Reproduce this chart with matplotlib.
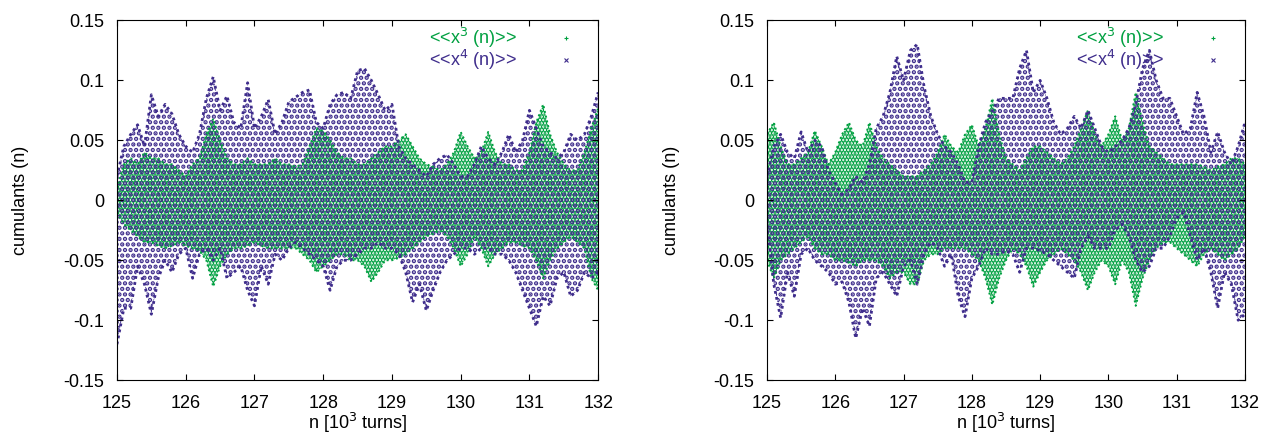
import numpy as np
import matplotlib
matplotlib.use("Agg")
from matplotlib import pyplot as plt

plt.rcParams['font.family'] = ['Liberation Sans', 'DejaVu Sans']
plt.rcParams['hatch.linewidth'] = 2.2

# n in 10^3 turns, sampled every 0.1
n = np.round(np.arange(125.0, 132.01, 0.1), 1)

# left panel: envelopes of the point clouds
left_x3_hi = [0.010, 0.030, 0.035, 0.030, 0.040, 0.035, 0.035, 0.030, 0.030, 0.025,
              0.020, 0.030, 0.035, 0.055, 0.068, 0.050, 0.035, 0.030, 0.030, 0.035,
              0.030, 0.030, 0.030, 0.035, 0.030, 0.030, 0.028, 0.030, 0.045, 0.060,
              0.058, 0.050, 0.040, 0.035, 0.035, 0.030, 0.030, 0.035, 0.040, 0.045,
              0.045, 0.050, 0.055, 0.045, 0.035, 0.030, 0.028, 0.025, 0.030, 0.040,
              0.057, 0.045, 0.035, 0.040, 0.057, 0.040, 0.030, 0.030, 0.025, 0.025,
              0.040, 0.065, 0.080, 0.055, 0.040, 0.030, 0.025, 0.025, 0.040, 0.060, 0.077]
left_x3_lo = [-0.010, -0.020, -0.025, -0.030, -0.035, -0.035, -0.038, -0.040, -0.038, -0.035,
              -0.038, -0.040, -0.042, -0.050, -0.072, -0.055, -0.045, -0.040, -0.040, -0.038,
              -0.035, -0.038, -0.040, -0.040, -0.040, -0.040, -0.040, -0.045, -0.050, -0.060,
              -0.055, -0.050, -0.045, -0.045, -0.050, -0.050, -0.055, -0.068, -0.060, -0.050,
              -0.050, -0.048, -0.045, -0.040, -0.035, -0.030, -0.028, -0.025, -0.030, -0.040,
              -0.055, -0.045, -0.030, -0.040, -0.055, -0.045, -0.040, -0.035, -0.035, -0.038,
              -0.040, -0.050, -0.065, -0.050, -0.040, -0.035, -0.030, -0.035, -0.040, -0.065, -0.075]
left_x4_hi = [0.020, 0.045, 0.055, 0.063, 0.045, 0.088, 0.070, 0.080, 0.072, 0.055,
              0.045, 0.040, 0.055, 0.085, 0.103, 0.075, 0.087, 0.065, 0.060, 0.098,
              0.060, 0.070, 0.084, 0.055, 0.065, 0.082, 0.086, 0.090, 0.092, 0.065,
              0.060, 0.080, 0.088, 0.090, 0.085, 0.108, 0.110, 0.100, 0.088, 0.075,
              0.080, 0.045, 0.035, 0.030, 0.025, 0.020, 0.030, 0.035, 0.038, 0.030,
              0.020, 0.020, 0.030, 0.045, 0.035, 0.030, 0.040, 0.055, 0.040, 0.050,
              0.075, 0.060, 0.045, 0.040, 0.035, 0.040, 0.055, 0.050, 0.055, 0.070, 0.090]
left_x4_lo = [-0.120, -0.090, -0.090, -0.055, -0.070, -0.095, -0.065, -0.050, -0.060, -0.045,
              -0.040, -0.065, -0.045, -0.040, -0.050, -0.040, -0.065, -0.060, -0.055, -0.075,
              -0.088, -0.055, -0.070, -0.045, -0.050, -0.040, -0.035, -0.040, -0.045, -0.050,
              -0.055, -0.075, -0.055, -0.050, -0.050, -0.045, -0.040, -0.040, -0.035, -0.040,
              -0.040, -0.045, -0.060, -0.085, -0.070, -0.092, -0.075, -0.060, -0.050, -0.045,
              -0.040, -0.040, -0.045, -0.040, -0.040, -0.045, -0.045, -0.050, -0.060, -0.075,
              -0.090, -0.105, -0.080, -0.088, -0.065, -0.060, -0.080, -0.075, -0.060, -0.065, -0.060]

# right panel
right_x3_hi = [0.055, 0.065, 0.045, 0.030, 0.030, 0.035, 0.040, 0.058, 0.045, 0.030,
               0.040, 0.055, 0.065, 0.050, 0.045, 0.065, 0.045, 0.035, 0.030, 0.025,
               0.020, 0.020, 0.020, 0.025, 0.030, 0.040, 0.055, 0.045, 0.040, 0.055,
               0.063, 0.045, 0.060, 0.085, 0.055, 0.035, 0.030, 0.025, 0.035, 0.045,
               0.045, 0.040, 0.035, 0.030, 0.035, 0.045, 0.060, 0.075, 0.055, 0.045,
               0.055, 0.070, 0.050, 0.060, 0.090, 0.065, 0.045, 0.040, 0.035, 0.030,
               0.030, 0.030, 0.030, 0.030, 0.028, 0.025, 0.028, 0.030, 0.035, 0.035, 0.030]
right_x3_lo = [-0.050, -0.065, -0.050, -0.045, -0.040, -0.035, -0.030, -0.040, -0.045, -0.045,
               -0.050, -0.050, -0.052, -0.055, -0.050, -0.050, -0.050, -0.055, -0.065, -0.060,
               -0.060, -0.070, -0.070, -0.050, -0.045, -0.045, -0.040, -0.040, -0.040, -0.040,
               -0.045, -0.050, -0.065, -0.087, -0.065, -0.050, -0.040, -0.045, -0.055, -0.072,
               -0.060, -0.050, -0.045, -0.040, -0.045, -0.050, -0.060, -0.075, -0.060, -0.050,
               -0.055, -0.070, -0.050, -0.060, -0.088, -0.065, -0.050, -0.040, -0.035, -0.035,
               -0.040, -0.045, -0.050, -0.055, -0.045, -0.040, -0.045, -0.050, -0.045, -0.040, -0.030]
right_x4_hi = [0.020, 0.045, 0.055, 0.040, 0.035, 0.057, 0.040, 0.050, 0.045, 0.025,
               0.015, 0.005, 0.010, 0.020, 0.015, 0.030, 0.060, 0.070, 0.090, 0.120,
               0.100, 0.125, 0.130, 0.095, 0.070, 0.055, 0.045, 0.040, 0.030, 0.015,
               0.015, 0.045, 0.065, 0.075, 0.085, 0.085, 0.085, 0.110, 0.125, 0.090,
               0.100, 0.085, 0.065, 0.055, 0.060, 0.070, 0.060, 0.075, 0.060, 0.045,
               0.040, 0.045, 0.050, 0.060, 0.080, 0.110, 0.125, 0.100, 0.085, 0.085,
               0.070, 0.055, 0.060, 0.090, 0.070, 0.040, 0.057, 0.040, 0.030, 0.045, 0.065]
right_x4_lo = [-0.020, -0.070, -0.098, -0.060, -0.080, -0.045, -0.040, -0.050, -0.055, -0.060,
               -0.070, -0.068, -0.085, -0.115, -0.090, -0.105, -0.065, -0.060, -0.070, -0.080,
               -0.055, -0.050, -0.070, -0.045, -0.035, -0.040, -0.055, -0.045, -0.080, -0.097,
               -0.065, -0.055, -0.040, -0.045, -0.045, -0.042, -0.045, -0.060, -0.040, -0.040,
               -0.042, -0.045, -0.050, -0.055, -0.060, -0.065, -0.040, -0.030, -0.040, -0.040,
               -0.040, -0.025, -0.020, -0.030, -0.050, -0.060, -0.055, -0.040, -0.040, -0.030,
               -0.015, -0.010, -0.030, -0.050, -0.040, -0.060, -0.090, -0.060, -0.070, -0.100, -0.095]

green = '#00a040'
purple = '#3f2d8c'
xticks = [125, 126, 127, 128, 129, 130, 131, 132]
yticks = [-0.15, -0.1, -0.05, 0, 0.05, 0.1, 0.15]
ylabs = ['-0.15', '-0.1', '-0.05', '0', '0.05', '0.1', '0.15']

fig = plt.figure(figsize=(12.73, 4.34), dpi=100)
ax1 = fig.add_axes([0.0919, 0.124, 0.378, 0.829])
ax2 = fig.add_axes([0.6025, 0.124, 0.3755, 0.829])

panels = [(ax1, left_x3_hi, left_x3_lo, left_x4_hi, left_x4_lo),
          (ax2, right_x3_hi, right_x3_lo, right_x4_hi, right_x4_lo)]

for ax, g_hi, g_lo, p_hi, p_lo in panels:
    # point clouds drawn as speckled bands, green under purple
    ax.fill_between(n, g_lo, g_hi, facecolor='none', edgecolor=green,
                    hatch='.....', linewidth=0)
    ax.fill_between(n, p_lo, p_hi, facecolor='none', edgecolor=purple,
                    hatch='...', linewidth=0)
    ax.plot(n, g_hi, color=green, ls=(0, (1, 1.5)), lw=1.4)
    ax.plot(n, g_lo, color=green, ls=(0, (1, 1.5)), lw=1.4)
    ax.plot(n, p_hi, color=purple, ls=(0, (1, 1.2)), lw=2.0)
    ax.plot(n, p_lo, color=purple, ls=(0, (1, 1.2)), lw=2.0)

    h3, = ax.plot([], [], '+', color=green, ms=2.5, mew=0.8)
    h4, = ax.plot([], [], 'x', color=purple, ms=2.5, mew=0.8)
    leg = ax.legend([h3, h4], ['<<x$^3$ (n)>>', '<<x$^4$ (n)>>'],
                    loc='upper right', frameon=False, markerfirst=False,
                    fontsize=13, handlelength=1.0, handletextpad=2.2,
                    labelspacing=-0.1, borderaxespad=0.1,
                    bbox_to_anchor=(0.97, 1.01))
    for t, c in zip(leg.get_texts(), [green, purple]):
        t.set_color(c)

    ax.set_xlim(125, 132)
    ax.set_ylim(-0.15, 0.15)
    ax.set_xticks(xticks)
    ax.set_yticks(yticks)
    ax.set_yticklabels(ylabs)
    ax.tick_params(direction='in', top=True, right=True, length=4,
                   labelsize=13, pad=9)
    ax.tick_params(axis='x', pad=11)
    ax.set_xlabel('n [10$^3$ turns]', fontsize=13, labelpad=-1)
    ax.set_ylabel('cumulants (n)', fontsize=13)
    ax.yaxis.set_label_coords(-0.183, 0.5)

fig.savefig('out.png', dpi=100)
